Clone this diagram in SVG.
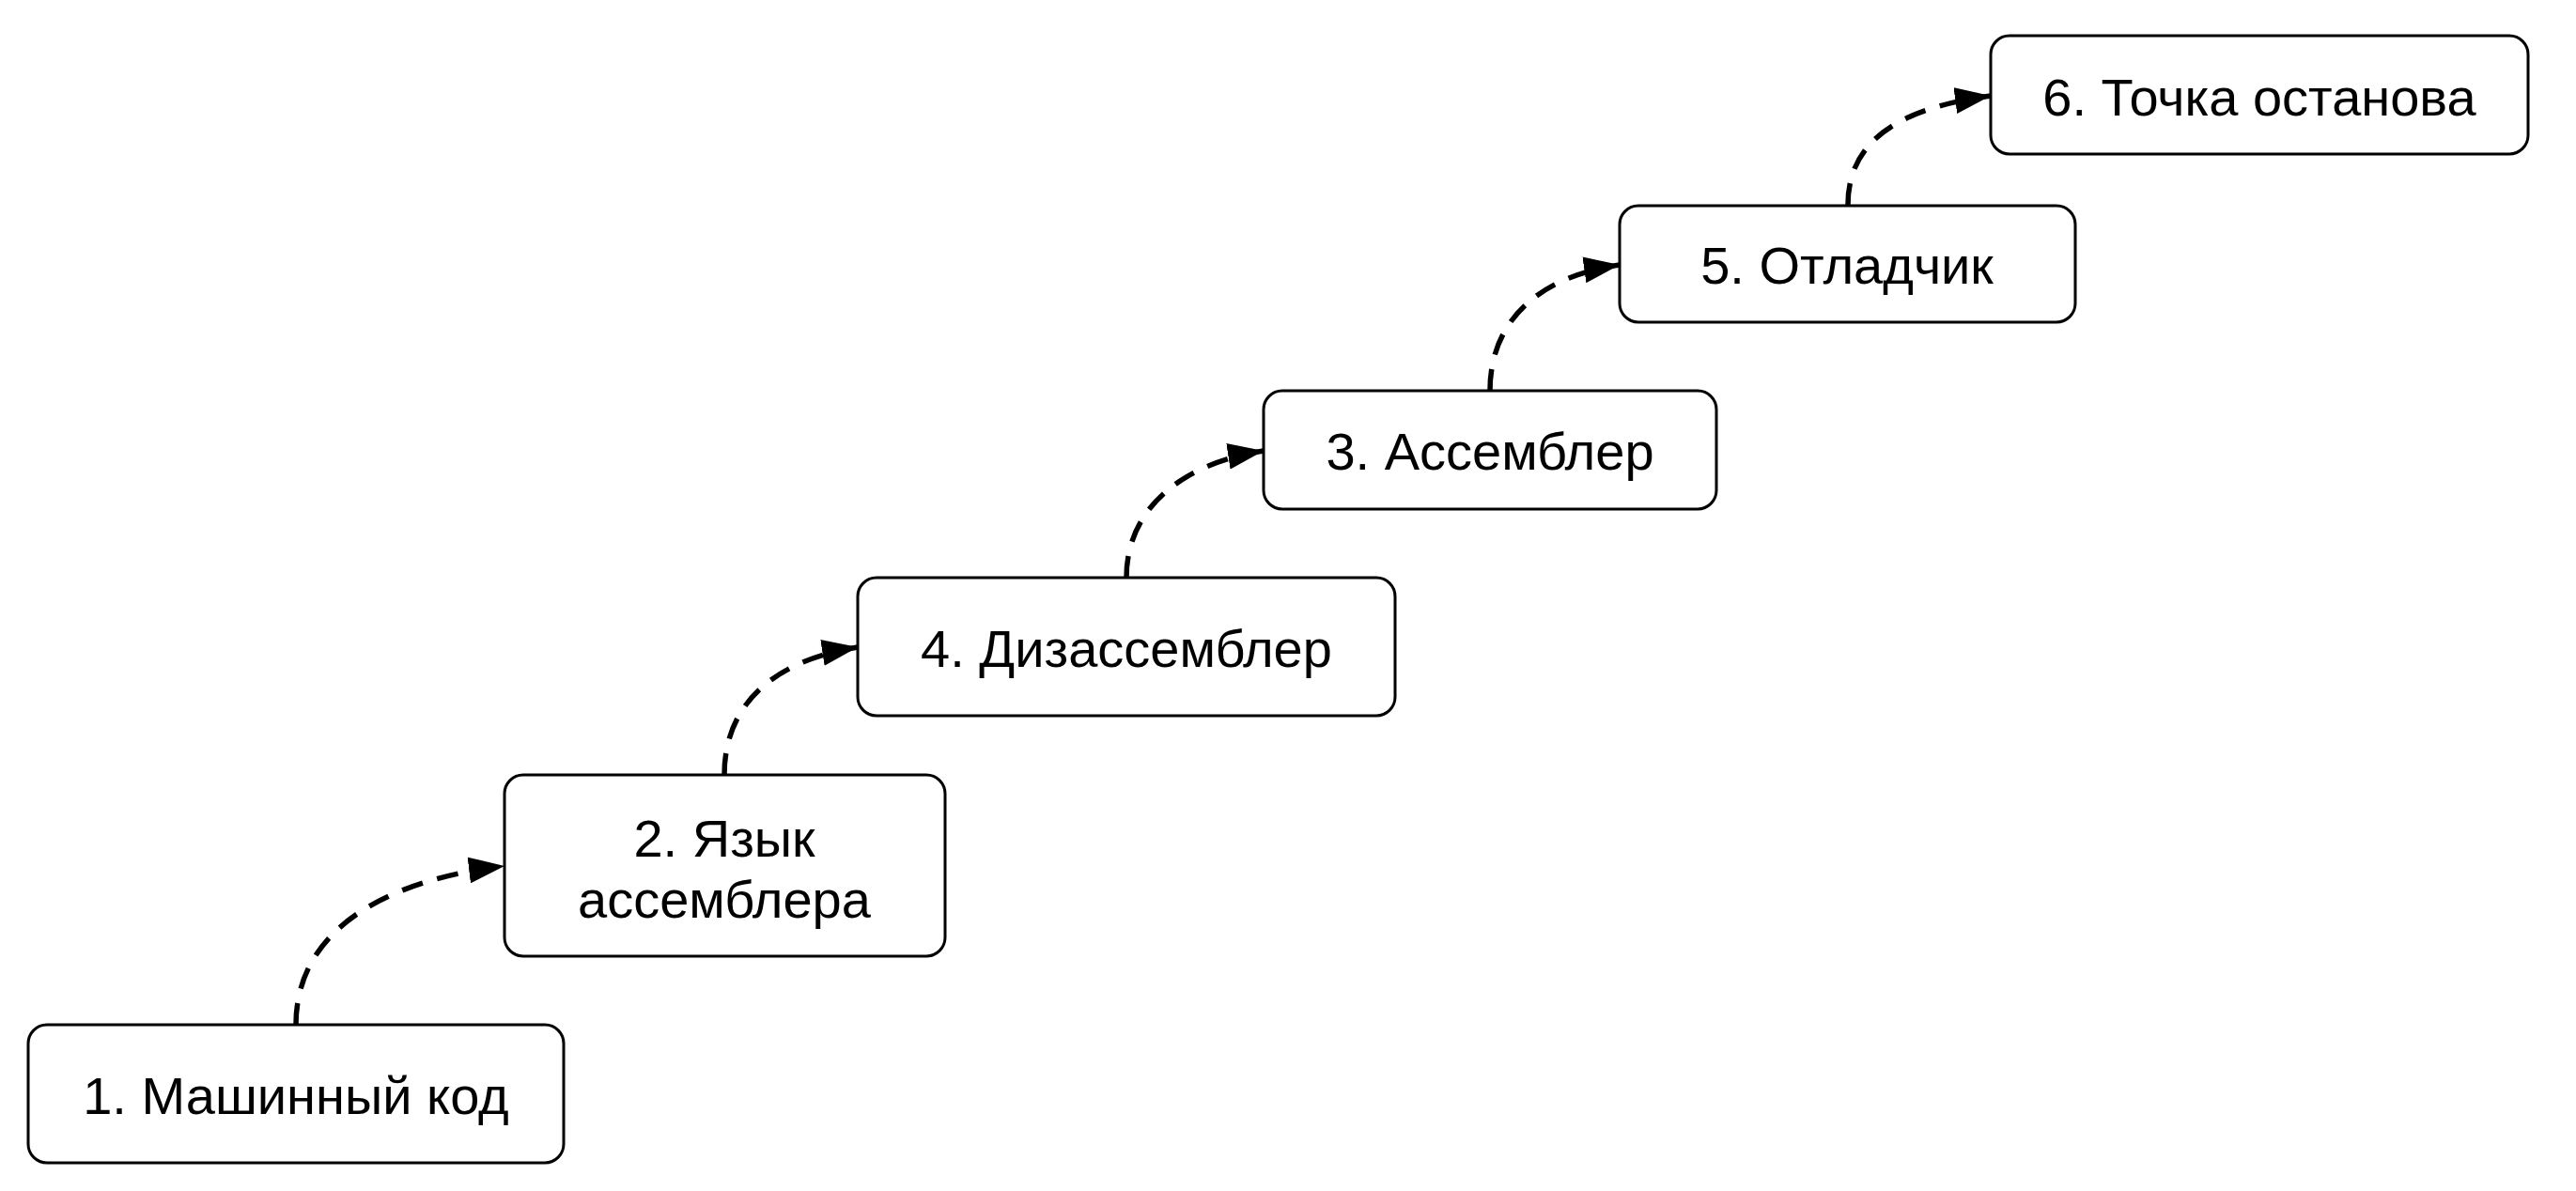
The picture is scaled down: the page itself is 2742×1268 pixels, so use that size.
<svg xmlns="http://www.w3.org/2000/svg" width="2742" height="1268" viewBox="0 0 2742 1268">
<style>
.node rect{fill:#fff;stroke:#000;stroke-width:3}
.node text{font-family:"Liberation Sans",Arial,sans-serif;font-size:56px;fill:#000;text-anchor:middle}
.edge{fill:none;stroke:#000;stroke-width:5.5;stroke-dasharray:23 16}
</style>
<defs>
<marker id="arr" markerUnits="userSpaceOnUse" markerWidth="38" markerHeight="28" refX="38" refY="14" orient="auto">
<path d="M0,0 L38,14 L0,28 Z" fill="#000"/>
</marker>
</defs>
<rect width="2742" height="1268" fill="#fff"/>
<g id="connectors">
<path class="edge" d="M315,1091 C315,990 410,937 537,922" marker-end="url(#arr)"/>
<path class="edge" d="M771,825 C771,745 830,702 913,689" marker-end="url(#arr)"/>
<path class="edge" d="M1199,615 C1199,540 1260,493 1345,480" marker-end="url(#arr)"/>
<path class="edge" d="M1586,416 C1586,340 1640,294 1724,282" marker-end="url(#arr)"/>
<path class="edge" d="M1967,218 C1967,145 2030,114 2119,102" marker-end="url(#arr)"/>
</g>
<g id="n1" class="node"><rect x="30" y="1091" width="570" height="147" rx="20"/><text x="315" y="1186">1. Машинный код</text></g>
<g id="n2" class="node"><rect x="537" y="825" width="469" height="193" rx="20"/><text x="771" y="912">2. Язык</text><text x="771" y="977">ассемблера</text></g>
<g id="n4" class="node"><rect x="913" y="615" width="572" height="147" rx="20"/><text x="1199" y="710">4. Дизассемблер</text></g>
<g id="n3" class="node"><rect x="1345" y="416" width="482" height="126" rx="20"/><text x="1586" y="500">3. Ассемблер</text></g>
<g id="n5" class="node"><rect x="1724" y="219" width="485" height="124" rx="20"/><text x="1966" y="302">5. Отладчик</text></g>
<g id="n6" class="node"><rect x="2119" y="38" width="572" height="126" rx="20"/><text x="2405" y="123">6. Точка останова</text></g>
</svg>
